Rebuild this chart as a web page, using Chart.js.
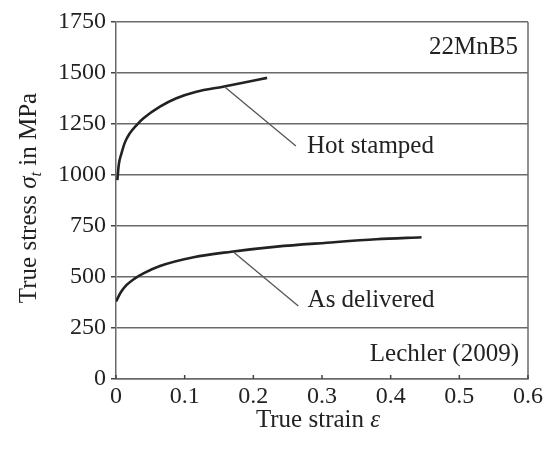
<!DOCTYPE html>
<html>
<head>
<meta charset="utf-8">
<script src="https://cdn.jsdelivr.net/npm/chart.js@4.4.1/dist/chart.umd.min.js"></script>
<style>
  html, body { margin: 0; padding: 0; background: #fff; }
  #wrap { width: 545px; height: 449px; }
</style>
</head>
<body>
<div id="wrap"><canvas id="chart" width="545" height="449"></canvas></div>
<script>
// flow curves of 22MnB5, true strain vs true stress (MPa)
let hotStrain = [0.002, 0.004, 0.008, 0.013, 0.020, 0.030, 0.040, 0.064, 0.088, 0.117, 0.156, 0.185, 0.220]
let hotStress = [975, 1050, 1106, 1160, 1204, 1245, 1278, 1335, 1376, 1408, 1433, 1452, 1476]
let deliveredStrain = [0, 0.007, 0.0155, 0.027, 0.040, 0.064, 0.113, 0.168, 0.234, 0.307, 0.379, 0.445]
let deliveredStress = [380, 425, 461, 492, 518, 554, 597, 624, 649, 668, 685, 695]
let xTicks = [0, 0.1, 0.2, 0.3, 0.4, 0.5, 0.6]
let yTicks = [0, 250, 500, 750, 1000, 1250, 1500, 1750]

const serif = "'Liberation Serif', 'Times New Roman', serif"
const ink = '#222'
const gridColor = '#6a6a6a'
const fs = 24

function toPoints(xs, ys) {
    return xs.map((x, i) => ({ x: x, y: ys[i] }))
}

// leader lines with their labels, in data units
const notes = [
    { from: [0.158, 1433], to: [0.262, 1142], text: 'Hot stamped', at: [0.278, 1140] },
    { from: [0.171, 622], to: [0.2655, 358], text: 'As delivered', at: [0.279, 383] }
]

const extras = {
    id: 'extras',
    afterDraw(chart) {
        const ctx = chart.ctx
        const a = chart.chartArea
        const xs = chart.scales.x
        const ys = chart.scales.y
        ctx.save()

        // right border
        ctx.strokeStyle = gridColor
        ctx.lineWidth = 1.5
        ctx.beginPath()
        ctx.moveTo(a.right, a.top)
        ctx.lineTo(a.right, a.bottom)
        ctx.stroke()

        // x tick marks point into the plot
        ctx.strokeStyle = '#444'
        xTicks.forEach(v => {
            let px = xs.getPixelForValue(v)
            ctx.beginPath()
            ctx.moveTo(px, a.bottom)
            ctx.lineTo(px, a.bottom - 4)
            ctx.stroke()
        })

        // leader lines and labels
        ctx.font = '25px ' + serif
        ctx.fillStyle = ink
        notes.forEach(n => {
            ctx.strokeStyle = '#555'
            ctx.lineWidth = 1.3
            ctx.beginPath()
            ctx.moveTo(xs.getPixelForValue(n.from[0]), ys.getPixelForValue(n.from[1]))
            ctx.lineTo(xs.getPixelForValue(n.to[0]), ys.getPixelForValue(n.to[1]))
            ctx.stroke()
            ctx.textAlign = 'left'
            ctx.textBaseline = 'middle'
            ctx.fillText(n.text, xs.getPixelForValue(n.at[0]), ys.getPixelForValue(n.at[1]))
        })

        // corner labels
        ctx.textAlign = 'right'
        ctx.fillText('22MnB5', a.right - 10, ys.getPixelForValue(1627))
        ctx.fillText('Lechler (2009)', a.right - 9, ys.getPixelForValue(122))

        // x axis title
        ctx.textAlign = 'left'
        ctx.textBaseline = 'alphabetic'
        let t1 = 'True strain '
        ctx.font = '25px ' + serif
        let w1 = ctx.measureText(t1).width
        ctx.font = 'italic 25px ' + serif
        let w2 = ctx.measureText('ε').width
        let sx = 318 - (w1 + w2) / 2
        ctx.font = '25px ' + serif
        ctx.fillText(t1, sx, 427)
        ctx.font = 'italic 25px ' + serif
        ctx.fillText('ε', sx + w1, 427)

        // y axis title, rotated, with subscript
        ctx.translate(36, 198)
        ctx.rotate(-Math.PI / 2)
        let parts = [
            { t: 'True stress ', f: '25px ' + serif, dy: 0 },
            { t: 'σ', f: 'italic 25px ' + serif, dy: 0 },
            { t: 't', f: 'italic 16px ' + serif, dy: 5 },
            { t: ' in MPa', f: '25px ' + serif, dy: 0 }
        ]
        let total = 0
        parts.forEach(p => { ctx.font = p.f; p.w = ctx.measureText(p.t).width; total += p.w })
        let cx = -total / 2
        parts.forEach(p => {
            ctx.font = p.f
            ctx.fillText(p.t, cx, p.dy)
            cx += p.w
        })
        ctx.restore()
    }
}

const data = {
    datasets: [{
        label: 'Hot stamped',
        data: toPoints(hotStrain, hotStress),
        borderColor: ink,
        borderWidth: 2.6,
        pointRadius: 0,
        showLine: true,
        cubicInterpolationMode: 'monotone'
    }, {
        label: 'As delivered',
        data: toPoints(deliveredStrain, deliveredStress),
        borderColor: ink,
        borderWidth: 2.6,
        pointRadius: 0,
        showLine: true,
        cubicInterpolationMode: 'monotone'
    }]
}

const config = {
    type: 'scatter',
    data: data,
    options: {
        responsive: false,
        animation: false,
        layout: {
            padding: { top: 22, right: 17, left: 0, bottom: 0 }
        },
        plugins: {
            legend: { display: false },
            tooltip: { enabled: false }
        },
        scales: {
            x: {
                type: 'linear',
                min: 0,
                max: 0.6,
                afterBuildTicks: scale => { scale.ticks = xTicks.map(v => ({ value: v })) },
                afterFit: scale => { scale.height = 70 },
                grid: { display: false },
                border: { color: gridColor, width: 1.5 },
                ticks: {
                    color: ink,
                    padding: -5,
                    font: { family: serif, size: fs },
                    callback: v => v === 0 ? '0' : v.toFixed(1)
                }
            },
            y: {
                type: 'linear',
                min: 0,
                max: 1750,
                afterBuildTicks: scale => { scale.ticks = yTicks.map(v => ({ value: v })) },
                afterFit: scale => { scale.width = 116 },
                grid: {
                    color: gridColor,
                    lineWidth: 1.5,
                    tickLength: 5,
                    tickColor: '#444'
                },
                border: { color: gridColor, width: 1.5 },
                ticks: {
                    color: ink,
                    padding: 5,
                    font: { family: serif, size: fs },
                    callback: v => String(v)
                }
            }
        }
    },
    plugins: [extras]
}

let myChart = new Chart(document.getElementById('chart'), config)
</script>
</body>
</html>
